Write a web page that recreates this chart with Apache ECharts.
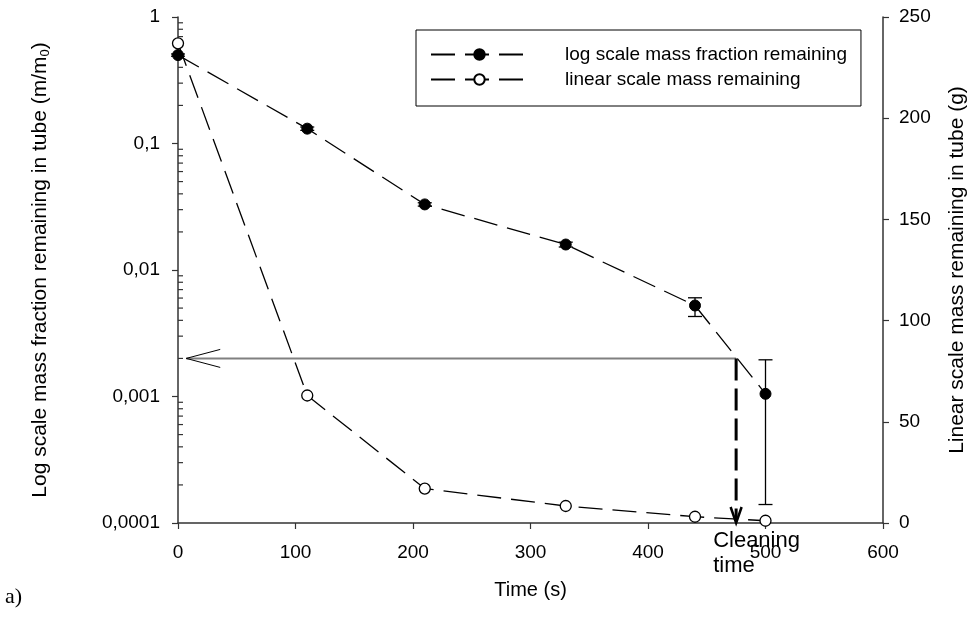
<!DOCTYPE html>
<html>
<head>
<meta charset="utf-8">
<script src="https://cdn.jsdelivr.net/npm/echarts@6/dist/echarts.min.js"></script>
<style>html,body{margin:0;padding:0;background:#fff}#c{width:979px;height:619px}</style>
</head>
<body>
<div id="c"></div>
<script>
// ---- data ----
const timeSeconds   = [0, 110, 210, 330, 440, 500];
const logFraction   = [0.5, 0.131, 0.033, 0.0159, 0.00524, 0.00105];
const logErrLow     = [0.49, 0.127, 0.032, 0.0152, 0.00429, 0.00014];
const logErrHigh    = [0.51, 0.135, 0.034, 0.0166, 0.00603, 0.00195];
const linearMass    = [237, 63, 17, 8.4, 3.1, 1.1];
const minorTickValues = [
  0.0002,0.0003,0.0004,0.0005,0.0006,0.0007,0.0008,0.0009,
  0.002,0.003,0.004,0.005,0.006,0.007,0.008,0.009,
  0.02,0.03,0.04,0.05,0.06,0.07,0.08,0.09,
  0.2,0.3,0.4,0.5,0.6,0.7,0.8,0.9
];
const cleaningTime = 475;
const cleaningFraction = 0.002;
const arrowTipTime = 7;
const cleaningLabel = 'Cleaning\ntime';
const seriesNames = ['log scale mass fraction remaining', 'linear scale mass remaining'];

const FONT = 'Liberation Sans, Arial, sans-serif';
const AX = '#333';

const chart = echarts.init(document.getElementById('c'), null, {renderer: 'canvas'});

function fmtComma(v) {
  return parseFloat(Number(v).toPrecision(6)).toString().replace('.', ',');
}

const option = {
  animation: false,
  backgroundColor: '#fff',
  grid: {left: 178, right: 96, top: 17, bottom: 96, containLabel: false},
  legend: {
    data: seriesNames,
    orient: 'vertical',
    left: 416, top: 30,
    itemWidth: 97, itemHeight: 13, itemGap: 6,
    padding: [15, 14, 17, 14],
    borderColor: '#000', borderWidth: 1,
    textStyle: {fontFamily: FONT, fontSize: 19, color: '#000', padding: [0, 0, 0, 32]},
    selectedMode: false
  },
  xAxis: {
    type: 'value', min: 0, max: 600, interval: 100,
    name: 'Time (s)', nameLocation: 'middle', nameGap: 57,
    nameTextStyle: {fontFamily: FONT, fontSize: 20, color: '#000'},
    axisLine: {show: true, onZero: false, lineStyle: {color: AX, width: 1.5}},
    axisTick: {show: true, inside: false, length: 6, lineStyle: {color: AX, width: 1.2}},
    axisLabel: {fontFamily: FONT, fontSize: 19, color: '#000', margin: 20},
    splitLine: {show: false}
  },
  yAxis: [
    {
      type: 'log', logBase: 10, min: 0.0001, max: 1, position: 'left',
      name: 'Log scale mass fraction remaining in tube (m/m{sub|0})',
      nameLocation: 'middle', nameGap: 126, nameRotate: 90,
      nameTextStyle: {fontFamily: FONT, fontSize: 21, color: '#000',
        rich: {sub: {fontFamily: FONT, fontSize: 13, color: '#000', verticalAlign: 'bottom', padding: [10, 0, 0, 0]}}},
      axisLine: {show: true, lineStyle: {color: AX, width: 1.5}},
      axisTick: {show: true, inside: false, length: 6, lineStyle: {color: AX, width: 1.2}},
      axisLabel: {fontFamily: FONT, fontSize: 19, color: '#000', margin: 18, formatter: fmtComma},
      splitLine: {show: false}, minorTick: {show: false}
    },
    {
      type: 'value', min: 0, max: 250, interval: 50, position: 'right',
      name: 'Linear scale mass remaining in tube (g)',
      nameLocation: 'middle', nameGap: 64, nameRotate: 90,
      nameTextStyle: {fontFamily: FONT, fontSize: 21, color: '#000'},
      axisLine: {show: true, lineStyle: {color: AX, width: 1.5}},
      axisTick: {show: true, inside: false, length: 6, lineStyle: {color: AX, width: 1.2}},
      axisLabel: {fontFamily: FONT, fontSize: 19, color: '#000', margin: 16},
      splitLine: {show: false}
    }
  ],
  graphic: [
    {type: 'text', left: 5, top: 586, style: {text: 'a)', font: '22px "Liberation Serif", "Times New Roman", serif', fill: '#000'}}
  ],
  series: [
    // minor ticks of the log axis (inside)
    {
      type: 'custom', name: 'minorTicks', xAxisIndex: 0, yAxisIndex: 0, clip: false, silent: true, z: 1,
      data: minorTickValues.map(v => [0, v]),
      renderItem: function (params, api) {
        const p = api.coord([0, api.value(1)]);
        return {type: 'line', shape: {x1: p[0], y1: p[1], x2: p[0] + 5, y2: p[1]},
          style: {stroke: AX, lineWidth: 1.2}};
      }
    },
    // cleaning arrows + label
    {
      type: 'custom', name: 'arrows', xAxisIndex: 0, yAxisIndex: 0, clip: false, silent: true, z: 2,
      data: [[arrowTipTime, cleaningFraction, cleaningTime]],
      renderItem: function (params, api) {
        const tip = api.coord([api.value(0), api.value(1)]);
        const corner = api.coord([api.value(2), api.value(1)]);
        const bottom = api.coord([api.value(2), 0.0001]);
        return {type: 'group', children: [
          {type: 'line', shape: {x1: tip[0], y1: tip[1], x2: corner[0], y2: corner[1]},
            style: {stroke: '#808080', lineWidth: 2}},
          {type: 'polyline', shape: {points: [[tip[0] + 34, tip[1] - 9], [tip[0], tip[1]], [tip[0] + 34, tip[1] + 9]]},
            style: {stroke: '#000', lineWidth: 1, fill: null}},
          {type: 'line', shape: {x1: corner[0], y1: corner[1], x2: bottom[0], y2: bottom[1] - 2},
            style: {stroke: '#000', lineWidth: 3, lineDash: [22, 8]}},
          {type: 'polyline', shape: {points: [[bottom[0] - 5.5, bottom[1] - 16], [bottom[0], bottom[1]], [bottom[0] + 5.5, bottom[1] - 16]]},
            style: {stroke: '#000', lineWidth: 2.5, fill: null}},
          {type: 'text', x: bottom[0] - 23, y: bottom[1] + 5, z2: 10,
            style: {text: cleaningLabel, fill: '#000', font: '22px ' + FONT, lineHeight: 25,
              align: 'left', verticalAlign: 'top'}}
        ]};
      }
    },
    // error bars
    {
      type: 'custom', name: 'errorBars', xAxisIndex: 0, yAxisIndex: 0, clip: false, silent: true, z: 3,
      data: timeSeconds.map((t, i) => [t, logErrLow[i], logErrHigh[i]]),
      renderItem: function (params, api) {
        const lo = api.coord([api.value(0), api.value(1)]);
        const hi = api.coord([api.value(0), api.value(2)]);
        const w = 7;
        return {type: 'group', children: [
          {type: 'line', shape: {x1: lo[0], y1: lo[1], x2: hi[0], y2: hi[1]}, style: {stroke: '#000', lineWidth: 1.3}},
          {type: 'line', shape: {x1: lo[0] - w, y1: lo[1], x2: lo[0] + w, y2: lo[1]}, style: {stroke: '#000', lineWidth: 1.3}},
          {type: 'line', shape: {x1: hi[0] - w, y1: hi[1], x2: hi[0] + w, y2: hi[1]}, style: {stroke: '#000', lineWidth: 1.3}}
        ]};
      }
    },
    {
      type: 'line', name: seriesNames[0], xAxisIndex: 0, yAxisIndex: 0, clip: false, z: 5,
      data: timeSeconds.map((t, i) => [t, logFraction[i]]),
      symbol: 'circle', symbolSize: 11,
      itemStyle: {color: '#000', borderColor: '#000', borderWidth: 1},
      lineStyle: {color: '#000', width: 1.3, type: [24, 10]}
    },
    {
      type: 'line', name: seriesNames[1], xAxisIndex: 0, yAxisIndex: 1, clip: false, z: 5,
      data: timeSeconds.map((t, i) => [t, linearMass[i]]),
      symbol: 'circle', symbolSize: 11,
      itemStyle: {color: '#fff', borderColor: '#000', borderWidth: 1.3},
      lineStyle: {color: '#000', width: 1.3, type: [24, 10]}
    }
  ]
};
chart.setOption(option);
</script>
</body>
</html>
